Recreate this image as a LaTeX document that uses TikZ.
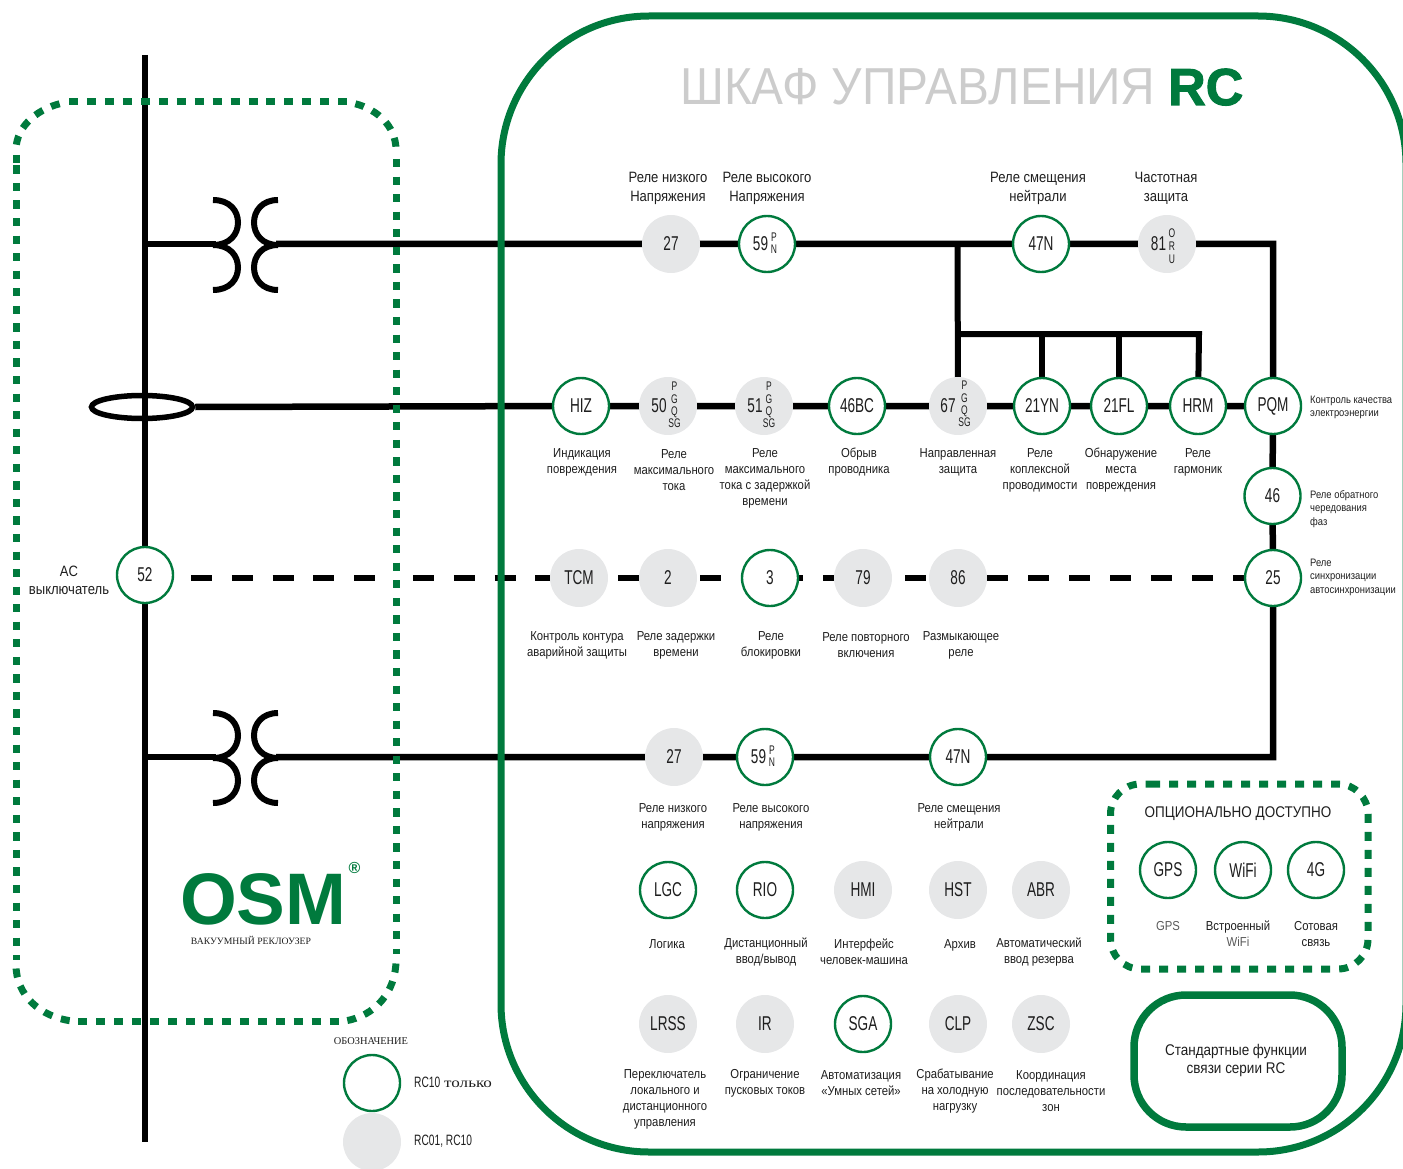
\documentclass[tikz,border=0pt]{standalone}
\usepackage{fontspec}
\setmainfont{Liberation Sans}
\newfontfamily\labf[FakeStretch=0.87]{Liberation Sans}
\newfontfamily\numf[FakeStretch=0.68]{Liberation Sans}
\newfontfamily\titf[FakeStretch=0.92]{Liberation Sans}
\newfontfamily\rcf[FakeBold=2]{Liberation Sans Bold}
\newfontfamily\serf{Liberation Serif}
\newfontfamily\sers[FakeStretch=1.22]{Liberation Serif}
\usetikzlibrary{shapes.geometric}
\pgfdeclarelayer{wires}
\pgfsetlayers{wires,main}
\definecolor{osm}{HTML}{007A3D}
\definecolor{gr}{HTML}{E6E7E8}
\definecolor{ink}{HTML}{1E1E1E}
\tikzset{
 relbase/.style={circle,minimum size=58pt,inner sep=0pt,text=ink,font=\numf\fontsize{20}{22}\selectfont},
 relon/.style={relbase,draw=osm,line width=2.4pt,minimum size=56pt,fill=white},
 reloff/.style={relbase,fill=gr},
 sublet/.style={inner sep=0pt,align=center,text=ink,font=\numf\fontsize{12.5}{12.3}\selectfont},
 wire/.style={draw=black,line width=6.5pt},
 dashwire/.style={draw=black,line width=6pt,dash pattern=on 21pt off 19.8pt},
 dotted box/.style={draw=osm,line width=7pt,dash pattern=on 9pt off 8.95pt},
 dotv/.style={draw=osm,line width=7pt,dash pattern=on 8.2pt off 9.35pt},
 dotc/.style={draw=osm,line width=7pt,dash pattern=on 9pt off 9pt},
 lbl/.style={inner sep=0pt,yshift=-1pt,align=center,text=ink,font=\labf\fontsize{13}{16}\selectfont},
 lbltop/.style={inner sep=0pt,yshift=-1pt,align=center,text=ink,font=\labf\fontsize{15}{19}\selectfont},
 lblside/.style={inner sep=0pt,yshift=-1.5pt,align=left,anchor=west,text=ink,font=\labf\fontsize{10.8}{13.5}\selectfont},
 frame/.style={draw=osm,line width=7pt,rounded corners=#1},
}
\newcommand{\xfmr}[1]{%
 \begin{scope}[yshift=-#1pt,line width=6pt]
  \draw (213,200) .. controls (230,200) and (238,211) .. (238,222.5) .. controls (238,234) and (230,245) .. (213,245) .. controls (230,245) and (238,256) .. (238,267.5) .. controls (238,279) and (230,290) .. (213,290);
  \draw (278,200) .. controls (262,200) and (254,211) .. (254,222.5) .. controls (254,234) and (262,245) .. (278,245) .. controls (262,245) and (254,256) .. (254,267.5) .. controls (254,279) and (262,290) .. (278,290);
 \end{scope}}
\begin{document}
\begin{tikzpicture}[x=1pt,y=-1pt]
\useasboundingbox (0,0) rectangle (1403,1169);
% anchors
\coordinate (bust) at (145,55);
\coordinate (busb) at (145,1142);
\coordinate (t1b) at (145,244.5);
\coordinate (t1l) at (216,244.5);
\coordinate (t1r) at (276,244);
\coordinate (t2b) at (145,757);
\coordinate (t2l) at (216,757);
\coordinate (t2r) at (276,757);
\coordinate (d0) at (191,578);
\coordinate (d0e) at (376,578);
\coordinate (d1) at (413,578);
\coordinate (d2) at (618,578);
\coordinate (c1) at (1273,244);
\coordinate (c2) at (1273,757);
\coordinate (b1) at (957.5,244);
\coordinate (b2) at (957.5,334);
\coordinate (b3) at (1042,334);
\coordinate (b4) at (1119,334);
\coordinate (b5) at (1199,334);
% frames
\draw[frame=148pt] (501,16) rectangle (1406,1152);
\draw[frame=52pt,line width=7.5pt] (1134,995) rectangle (1342,1127);
% dotted recloser frame
\draw[dotted box] (69,102) -- (348,102);
\draw[dotc,dash phase=12.5pt] (350,102.6) .. controls (375,107) and (396,125) .. (396,150);
\draw[dotv] (396,159) -- (396,954);
\draw[dotc,dash phase=14.5pt] (396,960) .. controls (396,992) and (375,1016) .. (345,1021);
\draw[dotted box] (78.3,1021) -- (340,1021);
\draw[dotc,dash phase=14.5pt] (16,965) .. controls (16,995) and (40,1017) .. (72,1021);
\draw[dotv] (16,165.4) -- (16,960);
\draw[draw=osm,line width=7pt] (16,155) -- (16,163);
\draw[dotc,dash phase=12.5pt] (65,102.6) .. controls (40,107) and (16,125) .. (16,150);
% optional frame
\draw[draw=osm,line width=7pt,dash pattern=on 9pt off 9pt,rounded corners=30pt] (1151,784) -- (1368,784) -- (1368,969) -- (1110.5,969) -- (1110.5,784) -- (1151,784);
% transformers
\xfmr{0}
\xfmr{513}
% current transformer
\node[ellipse,draw=black,line width=5.5pt,minimum width=101pt,minimum height=23pt,inner sep=0pt] (ct) at (142,407) {};
% row 1
\node[reloff] (a27) at (671,244) {27};
\node[relon] (a59) at (767,244) {\hspace*{-13pt}59};
\node[sublet] (a59s) at (774,243) {P\\N};
\node[relon] (a47) at (1041,244) {47N};
\node[reloff] (a81) at (1167,244) {\hspace*{-17pt}81};
\node[sublet,font=\numf\fontsize{12.5}{13}\selectfont] (a81s) at (1172,246) {O\\R\\U};
% row 2
\node[relon] (hiz) at (581,406) {HIZ};
\node[reloff] (b50) at (668,406) {\hspace*{-18pt}50};
\node[sublet] (b50s) at (674.5,405) {P\\G\\Q\\SG};
\node[reloff] (b51) at (764,406) {\hspace*{-18pt}51};
\node[sublet] (b51s) at (769,405) {P\\G\\Q\\SG};
\node[relon] (b46) at (857,406) {46BC};
\node[reloff] (b67) at (958,406) {\hspace*{-20pt}67};
\node[sublet] (b67s) at (964.5,404) {P\\G\\Q\\SG};
\node[relon] (yn) at (1042,406) {21YN};
\node[relon] (fl) at (1119,406) {21FL};
\node[relon] (hrm) at (1198,406) {HRM};
\node[relon] (pqm) at (1273,406) {PQM};
\node[relon] (r46) at (1272.5,496) {46};
\node[relon] (r25) at (1273,578) {25};
% row 3
\node[reloff] (tcm) at (579,578) {TCM};
\node[reloff] (c2n) at (668,578) {2};
\node[relon] (c3n) at (770,578) {3};
\node[reloff] (c79) at (863,578) {79};
\node[reloff] (c86) at (958,578) {86};
% row 4
\node[reloff] (d27) at (674,757) {27};
\node[relon] (d59) at (765,757) {\hspace*{-13pt}59};
\node[sublet] (d59s) at (772,756.5) {P\\N};
\node[relon] (d47) at (958,757) {47N};
% row 5
\node[relon] (lgc) at (668,890) {LGC};
\node[relon] (rio) at (765,890) {RIO};
\node[reloff] (hmi) at (863,890) {HMI};
\node[reloff] (hst) at (958,890) {HST};
\node[reloff] (abr) at (1041,890) {ABR};
% row 6
\node[reloff] (lrss) at (668,1024) {LRSS};
\node[reloff] (ir) at (765,1024) {IR};
\node[relon] (sga) at (863,1024) {SGA};
\node[reloff] (clp) at (958,1024) {CLP};
\node[reloff] (zsc) at (1041,1024) {ZSC};
% options
\node[relon] (gps) at (1168,870) {GPS};
\node[relon] (wifi) at (1243,870) {WiFi};
\node[relon] (g4) at (1316,870) {4G};
% breaker and legend
\node[relon] (r52) at (145,575) {52};
\node[relon] (legon) at (372,1083) {};
\node[reloff] (legoff) at (372,1142) {};
% wires
\begin{pgfonlayer}{wires}
\draw[line width=6pt] (bust) -- (busb);
\draw[line width=6pt] (t1b) -- (t1l);
\draw[line width=6pt] (t2b) -- (t2l);
\draw[wire] (t1r) -- (a27.center) -- (a59.center) -- (a47.center) -- (a81.center) -- (c1) -- (pqm.center) -- (r46.center) -- (r25.center) -- (c2) -- (d47.center) -- (d59.center) -- (d27.center) -- (t2r);
\draw[wire] (ct.east) -- (hiz.center) -- (b50.center) -- (b51.center) -- (b46.center) -- (b67.center) -- (yn.center) -- (fl.center) -- (hrm.center) -- (pqm.center);
\draw[line width=6pt] (b1) -- (b67.center);
\draw[line width=6pt] (b2) -- (b5) -- (hrm.center);
\draw[line width=6pt] (b3) -- (yn.center);
\draw[line width=6pt] (b4) -- (fl.center);
\draw[dashwire] (d0) -- (d0e);
\draw[dashwire] (d1) -- (tcm.center);
\draw[dashwire,dash pattern=on 21pt off 20pt] (d2) -- (c2n.center) -- (c3n.center) -- (c79.center) -- (c86.center) -- (r25.center);
\end{pgfonlayer}
% title
\node[inner sep=0pt,anchor=base west,text=black!20,font=\titf\fontsize{52}{56}\selectfont] (title) at (680,105) {ШКАФ УПРАВЛЕНИЯ};
\node[inner sep=0pt,anchor=base west,text=osm,font=\rcf\fontsize{52}{56}\selectfont] (titrc) at (1168,105) {RC};
% top labels
\node[lbltop] (l1) at (668,187) {Реле низкого\\Напряжения};
\node[lbltop] (l2) at (767,187) {Реле высокого\\Напряжения};
\node[lbltop] (l3) at (1038,187) {Реле смещения\\нейтрали};
\node[lbltop] (l4) at (1166,187) {Частотная\\защита};
% row 2 labels
\node[lbl] (l5) at (582,461) {Индикация\\повреждения};
\node[lbl] (l6) at (674,469) {Реле\\максимального\\тока};
\node[lbl] (l7) at (765,477) {Реле\\максимального\\тока с задержкой\\времени};
\node[lbl] (l8) at (859,461) {Обрыв\\проводника};
\node[lbl] (l9) at (958,461) {Направленная\\защита};
\node[lbl] (l10) at (1040,469) {Реле\\коплексной\\проводимости};
\node[lbl] (l11) at (1121,469) {Обнаружение\\места\\повреждения};
\node[lbl] (l12) at (1198,461) {Реле\\гармоник};
\node[lblside] (l13) at (1310,406) {Контроль качества\\электроэнергии};
\node[lblside] (l14) at (1310,507.5) {Реле обратного\\чередования\\фаз};
\node[lblside] (l15) at (1310,575.5) {Реле\\синхронизации\\автосинхронизации};
% row 3 labels
\node[lbl] (l16) at (577,644) {Контроль контура\\аварийной защиты};
\node[lbl] (l17) at (676,644) {Реле задержки\\времени};
\node[lbl] (l18) at (771,644) {Реле\\блокировки};
\node[lbl] (l19) at (866,644) {Реле повторного\\включения};
\node[lbl] (l20) at (961,644) {Размыкающее\\реле};
% row 4 labels
\node[lbl] (l21) at (673,816) {Реле низкого\\напряжения};
\node[lbl] (l22) at (771,816) {Реле высокого\\напряжения};
\node[lbl] (l23) at (959,816) {Реле смещения\\нейтрали};
% row 5 labels
\node[lbl] (l24) at (667,943) {Логика};
\node[lbl] (l25) at (766,951) {Дистанционный\\ввод/вывод};
\node[lbl] (l26) at (864,951) {Интерфейс\\человек-машина};
\node[lbl] (l27) at (960,944) {Архив};
\node[lbl] (l28) at (1039,951) {Автоматический\\ввод резерва};
% row 6 labels
\node[lbl] (l29) at (665,1098) {Переключатель\\локального и\\дистанционного\\управления};
\node[lbl] (l30) at (765,1082) {Ограничение\\пусковых токов};
\node[lbl] (l31) at (861,1082) {Автоматизация\\«Умных сетей»};
\node[lbl] (l32) at (955,1090) {Срабатывание\\на холодную\\нагрузку};
\node[lbl] (l33) at (1051,1090) {Координация\\последовательности\\зон};
% options labels
\node[lbl,font=\labf\fontsize{15.5}{18}\selectfont] (l34) at (1238,813) {ОПЦИОНАЛЬНО ДОСТУПНО};
\node[lbl,text=black!65] (l35) at (1168,925) {GPS};
\node[lbl] (l36) at (1238,933) {Встроенный\\\textcolor{black!65}{WiFi}};
\node[lbl] (l37) at (1316,933) {Сотовая\\связь};
\node[lbl,font=\labf\fontsize{15.5}{18}\selectfont] (l38) at (1236,1059) {Стандартные функции\\связи серии RC};
\node[lbl,font=\labf\fontsize{15}{18}\selectfont] (l39) at (69,579) {AC\\выключатель};
% legend and logo
\node[inner sep=0pt,text=ink,font=\serf\fontsize{10.4}{11}\selectfont] (l40) at (371,1041) {ОБОЗНАЧЕНИЕ};
\node[inner sep=0pt,anchor=west,text=ink,font=\fontsize{14}{16}\selectfont] (l41) at (414,1082) {{\numf\fontsize{15}{16}\selectfont RC10} {\sers\fontsize{14}{16}\selectfont только}};
\node[inner sep=0pt,anchor=west,text=ink,font=\numf\fontsize{15}{16}\selectfont] (l42) at (414,1141) {RC01, RC10};
\node[inner sep=0pt,anchor=base west,text=osm,font=\bfseries\fontsize{73}{74}\selectfont] (osm) at (180,924) {OSM};
\node[inner sep=0pt,text=osm,font=\bfseries\fontsize{16}{17}\selectfont] (reg) at (354.5,868) {®};
\node[inner sep=0pt,text=ink,font=\serf\fontsize{9.7}{11}\selectfont] (l43) at (251,940) {ВАКУУМНЫЙ РЕКЛОУЗЕР};
\end{tikzpicture}
\end{document}
